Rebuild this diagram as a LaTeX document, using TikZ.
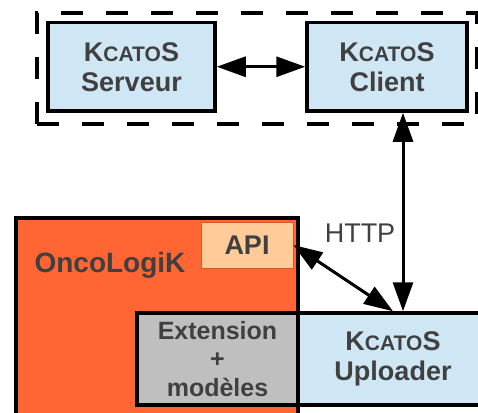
\documentclass[tikz,border=0pt]{standalone}
\usepackage{fontspec}
\setmainfont{Liberation Sans}
\usepackage{tikz}
\usetikzlibrary{arrows.meta,positioning,calc}

\definecolor{bleu}{HTML}{CFE7F5}
\definecolor{orangeonco}{HTML}{FF6633}
\definecolor{peche}{HTML}{FFCC99}
\definecolor{gris}{HTML}{BFBFBF}
\definecolor{texte}{HTML}{404040}
\newcommand{\kcatos}{K{\fontsize{21}{21}\selectfont CATO}S}

\begin{document}
\begin{tikzpicture}[x=1pt,y=-1pt,
  boite/.style={draw,line width=3.5pt,inner sep=0pt,align=center,text=texte,
    font=\bfseries\fontsize{27}{30}\selectfont},
  dbl/.style={{Triangle[length=29pt,width=20pt]}-{Triangle[length=29pt,width=20pt]},line width=3pt}]
  \useasboundingbox (0,0) rectangle (478,412);
  \clip (0,0) rectangle (478,412);
  % groupe KCATOS (pointille)
  \node[draw,line width=3.5pt,dash pattern=on 22pt off 23pt,
    minimum width=440pt,minimum height=111pt] (groupe) at (257,68.5) {};
  \node[boite,fill=bleu,minimum width=167pt,minimum height=88.5pt] (serveur) at (131.5,66.75) {\kcatos\\Serveur};
  \node[boite,fill=bleu,minimum width=160pt,minimum height=88.5pt] (client) at (387,66.75) {\kcatos\\Client};
  % OncoLogiK
  \node[draw,line width=3.5pt,fill=orangeonco,anchor=north west,
    minimum width=282pt,minimum height=300pt] (onco) at (14,216) {};
  \node[text=texte,font=\bfseries\fontsize{28}{30}\selectfont,anchor=base] (oncolbl) at (110,272) {OncoLogiK};
  \node[fill=peche,draw=orangeonco!85!black,line width=0.8pt,text=texte,
    font=\bfseries\fontsize{27}{30}\selectfont,minimum width=92pt,minimum height=46pt] (api) at (247,245) {API};
  \node[boite,fill=gris,font=\bfseries\fontsize{25}{28.5}\selectfont,
    minimum width=161pt,minimum height=92pt] (ext) at (217.5,359) {Extension\\+\\modèles};
  \node[boite,fill=bleu,minimum width=190pt,minimum height=92pt] (upl) at (393,359) {\kcatos\\Uploader};
  % liaisons
  \draw[dbl] (serveur) -- (client);
  \draw[dbl] (api.east) -- (upl.north);
  \draw[dbl] ([xshift=10pt]upl.north) -- ([xshift=10pt]upl.north |- client.south);
  \node[text=texte,font=\fontsize{27}{30}\selectfont,anchor=base] (http) at (360,242) {HTTP};
\end{tikzpicture}
\end{document}
